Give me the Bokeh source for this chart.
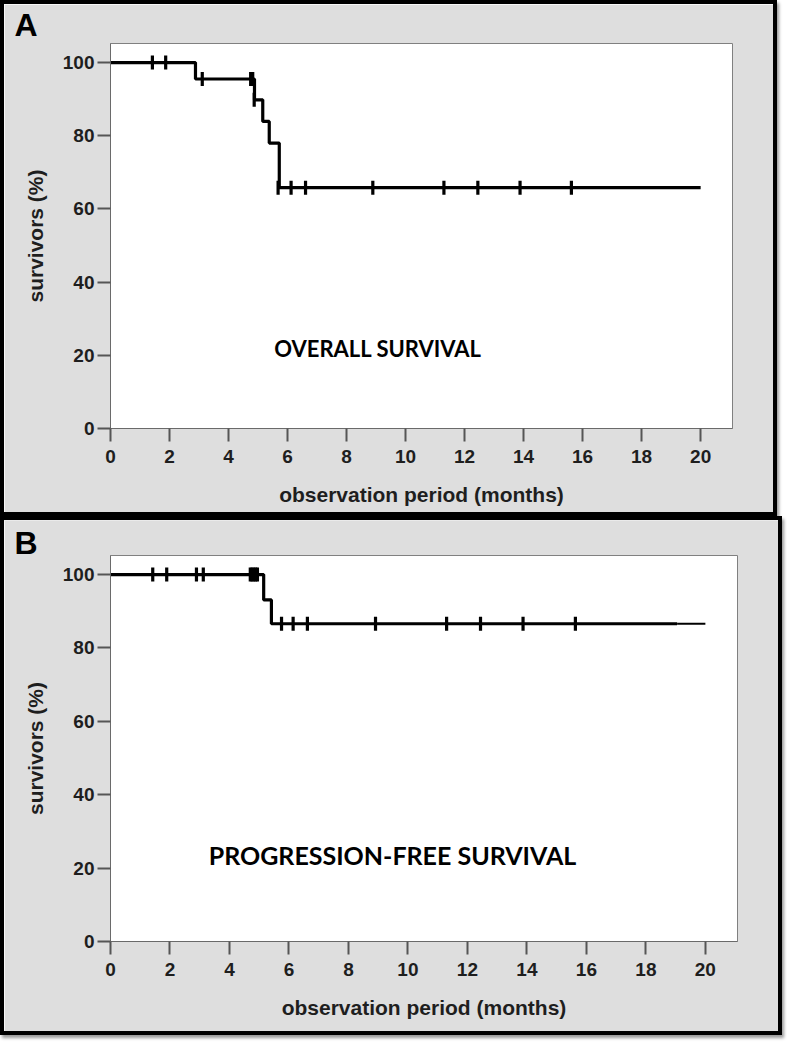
import numpy as np
from bokeh.plotting import figure
from bokeh.layouts import column
from bokeh.models import Range1d, FixedTicker, Label
from bokeh.embed import file_html
from bokeh.resources import INLINE

# ---------------- data ----------------
x_ticks = [0, 2, 4, 6, 8, 10, 12, 14, 16, 18, 20]
y_ticks = [0, 20, 40, 60, 80, 100]

# Panel A: overall survival (Kaplan-Meier steps)
os_times = [0, 2.88, 4.88, 5.16, 5.38, 5.72, 20.0]
os_surv = [100, 95.5, 89.8, 83.9, 78.0, 65.8, 65.8]
os_cens_t = [1.42, 1.87, 3.11, 4.75, 4.82, 4.87, 5.68, 6.12, 6.61, 8.89, 11.3, 12.45, 13.88, 15.62]
os_cens_s = [100, 100, 95.5, 95.5, 95.5, 89.8, 65.8, 65.8, 65.8, 65.8, 65.8, 65.8, 65.8, 65.8]

# Panel B: progression-free survival
pfs_times = [0, 5.15, 5.41, 19.05]
pfs_surv = [100, 93.1, 86.6, 86.6]
pfs_tail_t = [19.05, 20.0]
pfs_tail_s = [86.6, 86.6]
pfs_cens_t = [1.42, 1.89, 2.89, 3.12, 4.70, 4.76, 4.82, 4.88, 4.94, 5.75, 6.14, 6.62, 8.91, 11.3, 12.44, 13.87, 15.63]
pfs_cens_s = [100, 100, 100, 100, 100, 100, 100, 100, 100, 86.6, 86.6, 86.6, 86.6, 86.6, 86.6, 86.6, 86.6]

BG = "#dedede"
FONT = "Liberation Sans, Arial, sans-serif"


def make_panel(letter, letter_off, letter_standoff, times, surv, ct, cs,
               caption, cap_xy, cap_size,
               width, height, mbl, mbr, mbt, mbb, tail=None):
    p = figure(width=width, height=height,
               x_range=Range1d(0, 21.08), y_range=Range1d(0, 105.2),
               output_backend="svg", toolbar_location=None,
               min_border_left=mbl, min_border_right=mbr,
               min_border_top=mbt, min_border_bottom=mbb)
    p.background_fill_color = "white"
    p.border_fill_color = BG
    p.outline_line_color = "#808080"
    p.outline_line_width = 1
    p.grid.visible = False

    for ax in (p.xaxis[0], p.yaxis[0]):
        ax.axis_line_color = "#6a6a6a"
        ax.axis_line_width = 1
        ax.major_tick_line_color = "#555555"
        ax.major_tick_line_width = 2
        ax.major_tick_out = 13
        ax.major_tick_in = 0
        ax.minor_tick_line_color = None
        ax.major_label_text_font = FONT
        ax.major_label_text_font_style = "bold"
        ax.major_label_text_font_size = "19px"
        ax.major_label_text_color = "#1e1e1e"
        ax.axis_label_text_font = FONT
        ax.axis_label_text_font_style = "bold"
        ax.axis_label_text_font_size = "21px"
        ax.axis_label_text_color = "#1e1e1e"

    p.xaxis.ticker = FixedTicker(ticks=x_ticks)
    p.yaxis.ticker = FixedTicker(ticks=y_ticks)
    p.xaxis.major_label_standoff = 8
    p.yaxis.major_label_standoff = 3
    p.xaxis.axis_label = "observation period (months)"
    p.yaxis.axis_label = "survivors (%)"
    p.xaxis.axis_label_standoff = 17
    p.yaxis.axis_label_standoff = 13

    p.step(x=times, y=surv, mode="after", line_color="black", line_width=3.2)
    if tail is not None:
        p.line(x=tail[0], y=tail[1], line_color="black", line_width=2.2)
    p.scatter(x=ct, y=cs, marker="dash", size=14, angle=np.pi / 2,
              line_color="black", line_width=3.2)

    p.add_layout(Label(x=cap_xy[0], y=cap_xy[1], text=caption,
                       text_font="Lato", text_font_style="bold",
                       text_font_size=cap_size, text_color="black",
                       text_baseline="middle", text_align="left"))

    p.title.text = letter
    p.title.text_font = FONT
    p.title.text_font_style = "bold"
    p.title.text_font_size = "32px"
    p.title.text_color = "black"
    p.title.align = "left"
    p.title.offset = letter_off
    p.title.standoff = letter_standoff

    p.styles = {"border": "4px solid black",
                "box-shadow": "2px 3px 3px #9a9a9a"}
    return p


pA = make_panel("A", -96, 1, os_times, os_surv, os_cens_t, os_cens_s,
                "OVERALL SURVIVAL", (5.55, 21.8), "22px",
                777, 516, 102, 49, 38, 92)
pB = make_panel("B", -96, -11, pfs_times, pfs_surv, pfs_cens_t, pfs_cens_s,
                "PROGRESSION-FREE SURVIVAL", (3.30, 23.7), "25px",
                782, 519, 106, 49, 35, 98, tail=(pfs_tail_t, pfs_tail_s))

layout = column(pA, pB, spacing=0)
open("out.html", "w").write(file_html(layout, INLINE))
